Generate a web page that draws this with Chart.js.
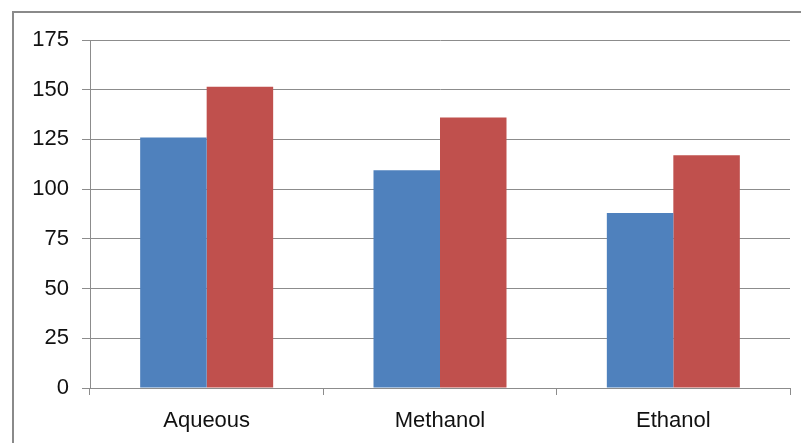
<!DOCTYPE html>
<html>
<head>
<meta charset="utf-8">
<script src="https://cdn.jsdelivr.net/npm/chart.js@4.4.0/dist/chart.umd.min.js"></script>
<style>
  html, body { margin:0; padding:0; background:#fff; }
  #wrap { position:relative; width:801px; height:443px; overflow:hidden; }
  #frame { position:absolute; left:12px; top:11px; width:900px; height:600px; border:2px solid #8a8a8a; }
  canvas { position:absolute; left:0; top:0; }
</style>
</head>
<body>
<div id="wrap">
  <div id="frame"></div>
  <canvas id="c" width="801" height="443"></canvas>
</div>
<script>
// data
const categories = ['Aqueous', 'Methanol', 'Ethanol'];
const seriesA = [126, 109.5, 88];
const seriesB = [151.5, 136, 117];
const yTicks = [0, 25, 50, 75, 100, 125, 150, 175];

const gridGray = '#8c8c8c';
const font = { family: '"Liberation Sans", Arial, sans-serif', size: 22 };

new Chart(document.getElementById('c').getContext('2d'), {
    type: 'bar',
    data: {
        labels: categories,
        datasets: [
            { label: 'A', data: seriesA, backgroundColor: '#4f81bd', borderWidth: 0 },
            { label: 'B', data: seriesB, backgroundColor: '#c0504d', borderWidth: 0 }
        ]
    },
    options: {
        responsive: false,
        animation: false,
        layout: { padding: { top: 40, right: 11, left: 0, bottom: 0 } },
        datasets: { bar: { categoryPercentage: 0.57, barPercentage: 1.0 } },
        plugins: { legend: { display: false }, tooltip: { enabled: false } },
        scales: {
            x: {
                grid: { offset: true, drawOnChartArea: false, color: gridGray, tickLength: 7, lineWidth: 1 },
                border: { color: gridGray, width: 1 },
                ticks: { font: font, color: '#111', padding: 13 },
                afterFit: s => { s.height = 55; }
            },
            y: {
                min: 0, max: 175,
                afterBuildTicks: s => { s.ticks = yTicks.map(v => ({ value: v })); },
                grid: { color: gridGray, tickLength: 8, lineWidth: 1 },
                border: { color: gridGray, width: 1 },
                ticks: { font: font, color: '#111', padding: 13 },
                afterFit: s => { s.width = 90; }
            }
        }
    }
});
</script>
</body>
</html>
